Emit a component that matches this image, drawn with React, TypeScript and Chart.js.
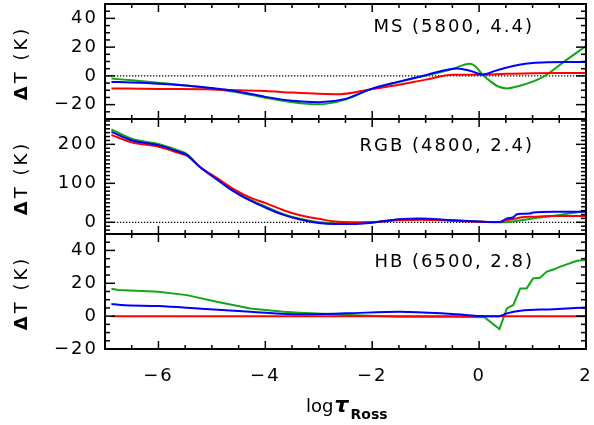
import React, { useEffect, useRef } from 'react';
import { Chart, registerables } from 'chart.js';

Chart.register(...registerables);

// ---------- tick labels ----------
const xTickValues = [-6, -4, -2, 0, 2];
const msTickValues = [-20, 0, 20, 40];
const rgbTickValues = [0, 100, 200];
const hbTickValues = [-20, 0, 20, 40];

const panelNames = ['MS (5800, 4.4)', 'RGB (4800, 2.4)', 'HB (6500, 2.8)'];
const yTitle = ['Δ', 'T (K)'];

// ---------- MS (5800, 4.4) ----------
const msGreenX = [-6.88, -6.5, -6.0, -5.5, -5.0, -4.5, -4.0, -3.5, -3.03, -2.5, -2.04, -1.5, -1.0, -0.5, -0.3, -0.17, -0.05, 0.05, 0.2, 0.35, 0.52, 0.75, 1.0, 1.23, 1.58, 2.0];
const msGreenY = [-1.9, -3.0, -4.7, -6.6, -8.9, -11.5, -15.2, -18.3, -19.8, -16.5, -9.4, -4.2, 0.3, 4.8, 7.5, 8.5, 6.0, 1.4, -3.5, -7.2, -8.7, -7.0, -4.0, 0.0, 9.6, 20.7];
const msBlueX = [-6.88, -6.5, -6.0, -5.5, -5.0, -4.5, -4.0, -3.5, -3.0, -2.5, -2.04, -1.5, -1.0, -0.4, -0.17, 0.08, 0.3, 0.52, 0.75, 1.0, 1.3, 1.6, 2.0];
const msBlueY = [-4.2, -4.6, -5.4, -6.7, -8.5, -11.0, -14.6, -17.3, -18.3, -16.0, -9.4, -4.0, 0.5, 5.2, 3.5, 0.9, 3.5, 5.8, 7.8, 9.0, 9.5, 9.6, 9.6];
const msRedX = [-6.88, -6.0, -5.0, -4.0, -3.5, -3.0, -2.6, -2.04, -1.5, -1.0, -0.5, 0.0, 0.5, 1.0, 1.5, 2.0];
const msRedY = [-8.7, -9.1, -9.4, -10.6, -11.6, -12.4, -12.7, -9.4, -6.2, -2.6, 0.8, 0.8, 1.4, 1.9, 2.0, 2.0];

// ---------- RGB (4800, 2.4) ----------
const rgbGreenX = [-6.88, -6.47, -6.0, -5.6, -5.47, -5.22, -4.91, -4.6, -4.29, -3.97, -3.66, -3.35, -3.0, -2.7, -2.4, -2.0, -1.5, -1.1, -0.5, 0.0, 0.39, 0.52, 0.7, 1.0, 1.4, 2.0];
const rgbGreenY = [238, 213, 201, 183, 175, 142, 112, 82, 59, 39, 21, 9, 0, -3, -3, 0, 7, 8, 5, 1.5, 0, 0.3, 3.3, 10, 16.7, 29.6];
const rgbBlueX = [-6.88, -6.47, -6.0, -5.6, -5.47, -5.22, -4.91, -4.6, -4.29, -3.97, -3.66, -3.35, -3.0, -2.7, -2.4, -2.0, -1.5, -1.1, -0.5, 0.0, 0.39, 0.52, 0.64, 0.7, 0.8, 0.95, 1.01, 1.4, 2.0];
const rgbBlueY = [232, 209, 198, 180, 173, 141, 110, 80, 56, 36, 19, 7, -2, -4.5, -4.5, -1, 8, 10, 5, 2, 0.5, 10, 13, 20, 22, 22.5, 25, 27, 27];
const rgbRedX = [-6.88, -6.47, -6.0, -5.6, -5.47, -5.22, -4.91, -4.6, -4.29, -3.97, -3.66, -3.35, -3.0, -2.7, -2.4, -2.0, -1.5, -1.1, -0.5, 0.0, 0.39, 0.52, 0.7, 0.77, 1.01, 1.4, 2.0];
const rgbRedY = [224, 204, 194, 177, 171, 142, 114, 86, 64, 48, 31, 18, 9, 2, 0, 0.5, 5, 6.6, 4, 1.5, 0.5, 5.8, 10, 12.6, 14.2, 16, 16];

// ---------- HB (6500, 2.8) ----------
const hbGreenX = [-6.88, -6.75, -6.0, -5.47, -4.91, -4.28, -3.66, -3.35, -2.3, -1.5, -0.5, 0.1, 0.38, 0.52, 0.64, 0.77, 0.89, 1.01, 1.14, 1.26, 1.4, 1.51, 1.83, 2.0];
const hbGreenY = [16.7, 15.9, 14.9, 12.8, 8.8, 4.7, 2.7, 2.1, 0.5, -0.3, -0.4, -0.7, -7.9, 4.7, 6.8, 16.9, 16.9, 23.0, 23.4, 27.0, 28.5, 30.0, 33.7, 34.1];
const hbBlueX = [-6.88, -6.7, -6.0, -5.2, -4.28, -3.35, -2.5, -1.48, -0.49, 0.12, 0.37, 0.52, 0.77, 1.4, 2.0];
const hbBlueY = [7.4, 6.8, 6.1, 4.5, 2.7, 1.1, 1.7, 2.7, 1.3, 0, 0, 1.7, 3.3, 4.2, 5.3];
const hbRedX = [-6.88, -4.0, -2.0, 0.0, 2.0];
const hbRedY = [0, 0, 0, 0, 0];

// ---------- zero reference ----------
const zeroX = [-7, 2];
const zeroY = [0, 0];

const GREEN = 'rgb(20,165,20)';
const BLUE = 'rgb(0,0,255)';
const RED = 'rgb(255,0,0)';
const FONT = '"DejaVu Sans", "Noto Sans", sans-serif';

const pts = (xs: number[], ys: number[]) => xs.map((x, i) => ({ x, y: ys[i] }));

const lineDs = (xs: number[], ys: number[], color: string, axis: string, smooth = true) => ({
  data: pts(xs, ys),
  yAxisID: axis,
  borderColor: color,
  borderWidth: 2,
  pointRadius: 0,
  fill: false,
  tension: 0,
  cubicInterpolationMode: smooth ? 'monotone' : 'default',
});

const zeroDs = (axis: string) => ({
  data: pts(zeroX, zeroY),
  yAxisID: axis,
  borderColor: '#000',
  borderWidth: 1.3,
  borderDash: [1.3, 1.7],
  pointRadius: 0,
  fill: false,
  tension: 0,
});

const fmt = (v: number) => (v < 0 ? '\u2212' + Math.abs(v) : String(v));

const panels = [
  { id: 'yMS', major: msTickValues, minor: 5, name: panelNames[0], dy: 23 },
  { id: 'yRGB', major: rgbTickValues, minor: 10, name: panelNames[1], dy: 27 },
  { id: 'yHB', major: hbTickValues, minor: 5, name: panelNames[2], dy: 28 },
];

const framePlugin = {
  id: 'idlFrame',
  beforeDraw(chart: any) {
    chart.ctx.letterSpacing = '2px';
  },
  afterDraw(chart: any) {
    const ctx = chart.ctx as CanvasRenderingContext2D;
    const ca = chart.chartArea;
    const xs = chart.scales.x;
    ctx.save();
    ctx.strokeStyle = '#000';
    ctx.fillStyle = '#000';
    const line = (x1: number, y1: number, x2: number, y2: number) => {
      ctx.beginPath();
      ctx.moveTo(x1, y1);
      ctx.lineTo(x2, y2);
      ctx.stroke();
    };
    for (const p of panels) {
      const s = chart.scales[p.id];
      const top = s.top;
      const bottom = s.bottom;
      // y ticks
      ctx.lineWidth = 1.5;
      const start = Math.ceil(s.min / p.minor) * p.minor;
      for (let v = start; v <= s.max + 1e-9; v += p.minor) {
        const y = s.getPixelForValue(v);
        const len = p.major.includes(v) ? 10 : 5;
        line(ca.left, y, ca.left + len, y);
        line(ca.right, y, ca.right - len, y);
      }
      // x ticks
      for (let k = 0; k <= 18; k++) {
        const v = xs.min + k * 0.5;
        const x = xs.getPixelForValue(v);
        const len = Math.abs(v % 2) < 1e-9 ? 8 : 4;
        line(x, top, x, top + len);
        line(x, bottom, x, bottom - len);
      }
      // frame
      ctx.lineWidth = 2;
      ctx.strokeRect(ca.left, top, ca.right - ca.left, bottom - top);
      // panel annotation
      ctx.letterSpacing = '2px';
      ctx.font = `18px ${FONT}`;
      ctx.textAlign = 'right';
      ctx.textBaseline = 'middle';
      ctx.fillText(p.name, ca.right - 52, top + p.dy);
      // y title
      ctx.save();
      ctx.letterSpacing = '3px';
      ctx.translate(22, (top + bottom) / 2 + 1.5);
      ctx.rotate(-Math.PI / 2);
      ctx.textAlign = 'left';
      ctx.textBaseline = 'middle';
      ctx.font = `bold 18px ${FONT}`;
      const w1 = ctx.measureText(yTitle[0]).width;
      ctx.font = `18px ${FONT}`;
      const w2 = ctx.measureText(yTitle[1]).width;
      const sx = -(w1 + w2) / 2;
      ctx.font = `bold 18px ${FONT}`;
      ctx.fillText(yTitle[0], sx, 0);
      ctx.font = `18px ${FONT}`;
      ctx.fillText(yTitle[1], sx + w1, 0);
      ctx.restore();
    }
    // x title: log tau_Ross
    ctx.letterSpacing = '0px';
    ctx.textAlign = 'left';
    ctx.textBaseline = 'alphabetic';
    const bx = ca.left + 201;
    const by = ca.bottom + 63;
    ctx.font = `18px ${FONT}`;
    ctx.fillText('log', bx, by);
    const wl = ctx.measureText('log').width;
    ctx.font = `bold italic 22px ${FONT}`;
    ctx.fillText('\u03c4', bx + wl + 1, by);
    const wt = ctx.measureText('\u03c4').width;
    ctx.font = `bold 14px ${FONT}`;
    ctx.fillText('Ross', bx + wl + wt + 3, by + 7);
    ctx.restore();
  },
};

const yScale = (min: number, max: number, ticks: number[]) => ({
  type: 'linear',
  position: 'left',
  stack: 'panels',
  stackWeight: 1,
  min,
  max,
  grid: { display: false, drawTicks: false },
  border: { display: false },
  ticks: {
    color: '#000',
    font: { family: FONT, size: 18 },
    padding: 7,
    autoSkip: false,
    callback: (v: number) => fmt(v),
  },
  afterBuildTicks: (s: any) => {
    s.ticks = ticks.map((value) => ({ value }));
  },
  afterFit: (s: any) => {
    s.width = 105;
    s.paddingTop = 0;
    s.paddingBottom = 0;
    s.paddingLeft = 0;
    s.paddingRight = 0;
  },
});

export default function App() {
  const ref = useRef<HTMLCanvasElement>(null);
  useEffect(() => {
    document.body.style.margin = '0';
    const chart = new Chart(ref.current as HTMLCanvasElement, {
      type: 'line',
      data: {
        datasets: [
          lineDs(msBlueX, msBlueY, BLUE, 'yMS'),
          lineDs(msRedX, msRedY, RED, 'yMS'),
          lineDs(msGreenX, msGreenY, GREEN, 'yMS'),
          zeroDs('yMS'),
          lineDs(rgbBlueX, rgbBlueY, BLUE, 'yRGB'),
          lineDs(rgbRedX, rgbRedY, RED, 'yRGB'),
          lineDs(rgbGreenX, rgbGreenY, GREEN, 'yRGB'),
          zeroDs('yRGB'),
          lineDs(hbBlueX, hbBlueY, BLUE, 'yHB'),
          lineDs(hbRedX, hbRedY, RED, 'yHB'),
          lineDs(hbGreenX, hbGreenY, GREEN, 'yHB', false),
        ] as any,
      },
      options: {
        responsive: false,
        animation: false,
        devicePixelRatio: 1,
        layout: { padding: { top: 4, right: 8, left: 0, bottom: 0 } },
        plugins: { legend: { display: false }, tooltip: { enabled: false } },
        scales: {
          x: {
            type: 'linear',
            position: 'bottom',
            min: -7,
            max: 2,
            grid: { display: false, drawTicks: false },
            border: { display: false },
            ticks: {
              color: '#000',
              font: { family: FONT, size: 18 },
              padding: 17,
              maxRotation: 0,
              autoSkip: false,
              callback: (v: number) => fmt(v),
            },
            afterBuildTicks: (s: any) => {
              s.ticks = xTickValues.map((value) => ({ value }));
            },
            afterFit: (s: any) => {
              s.height = 76;
              s.paddingTop = 0;
              s.paddingBottom = 0;
              s.paddingLeft = 0;
              s.paddingRight = 0;
            },
          },
          yHB: yScale(-20, 50, hbTickValues),
          yRGB: yScale(-30, 265, rgbTickValues),
          yMS: yScale(-30, 50, msTickValues),
        } as any,
      },
      plugins: [framePlugin],
    });
    return () => chart.destroy();
  }, []);
  return (
    <div style={{ width: 594, height: 425 }}>
      <canvas ref={ref} width={594} height={425} style={{ display: 'block' }} />
    </div>
  );
}
